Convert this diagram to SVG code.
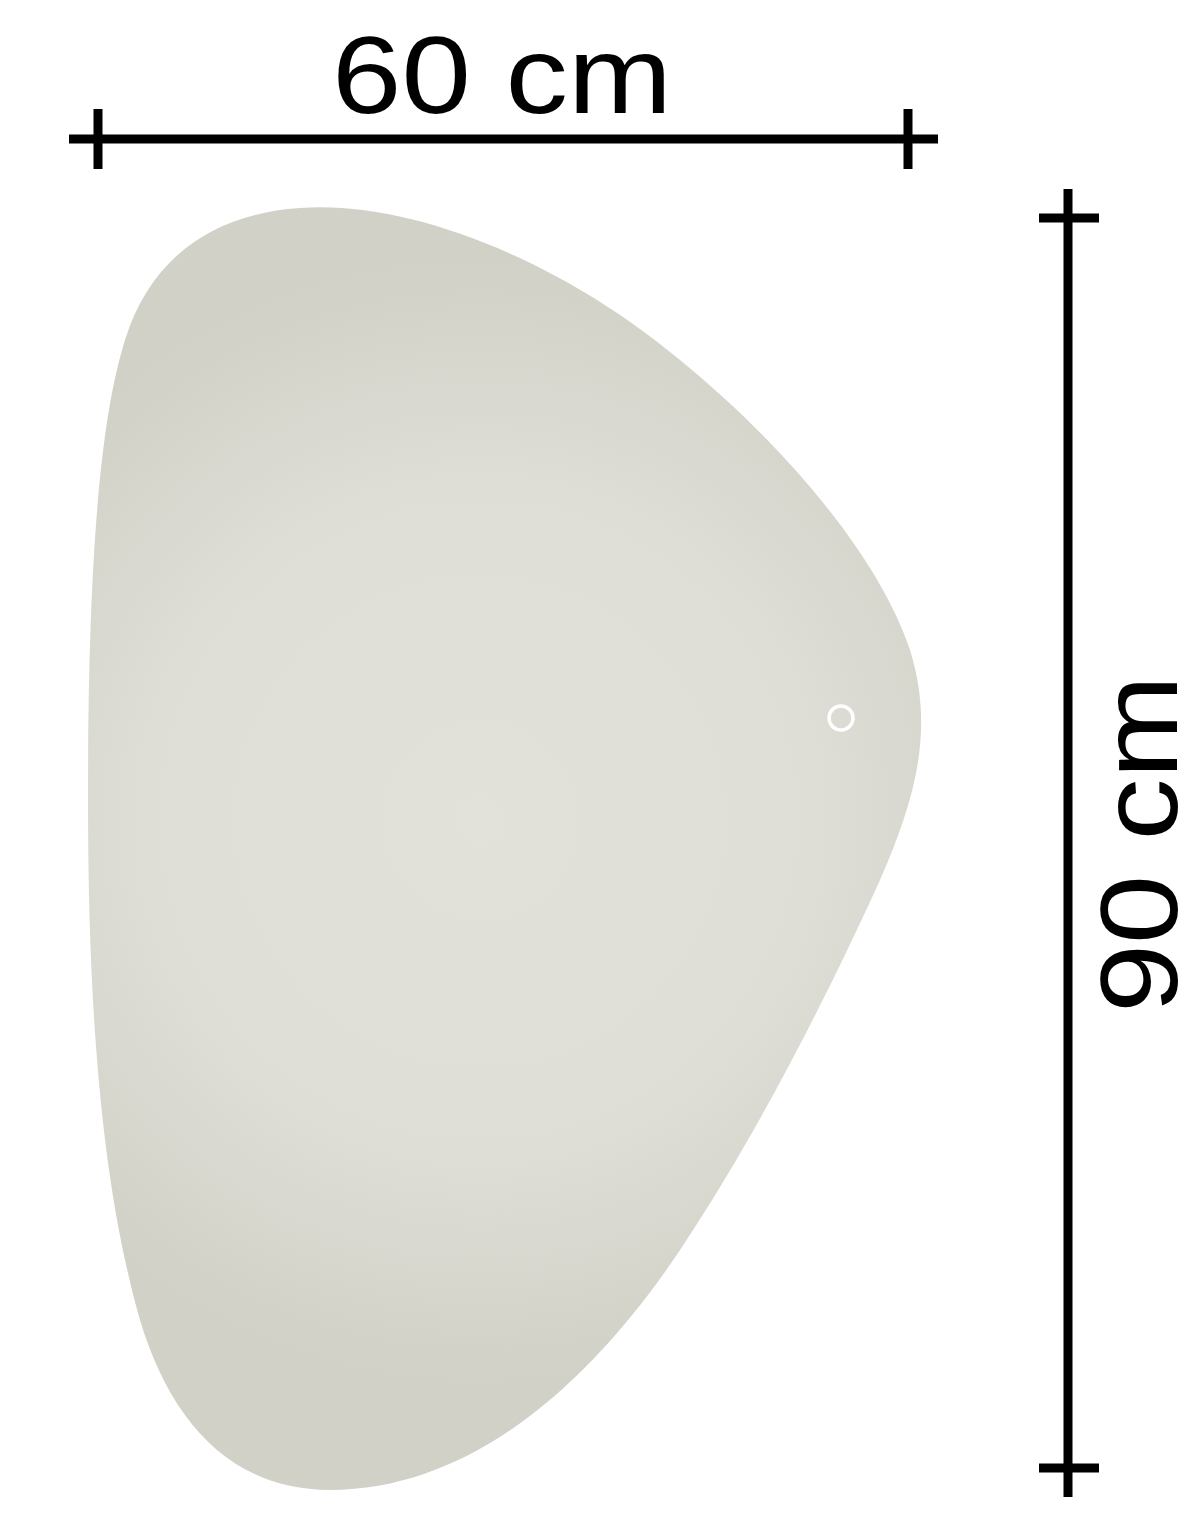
<svg xmlns="http://www.w3.org/2000/svg" width="1200" height="1539" viewBox="0 0 1200 1539">
<style>
.dim{stroke:#000;stroke-width:9;fill:none;stroke-linecap:butt}
.lbl{font-family:"Liberation Sans","Open Sans",sans-serif;font-size:110px;fill:#000}
</style>
<defs>
<radialGradient id="g" cx="480" cy="820" r="560" gradientUnits="userSpaceOnUse">
<stop offset="0" stop-color="#e2e2da"/>
<stop offset="0.6" stop-color="#deded6"/>
<stop offset="1" stop-color="#d1d1c8"/>
</radialGradient>
</defs>
<rect width="1200" height="1539" fill="#fff"/>
<g id="mirror">
<path d="M 300,208 C 410,200 560,260 680,360 C 790,450 880,560 910,650 C 935,730 915,800 880,880 C 830,990 760,1130 680,1250 C 600,1370 480,1490 330,1490 C 230,1490 170,1420 140,1320 C 100,1180 88,1000 88,800 C 88,560 100,420 125,340 C 150,260 210,214 300,208 Z" fill="url(#g)"/>
<circle cx="841" cy="718" r="12" fill="none" stroke="#fff" stroke-width="3.5"/>
</g>
<g id="width-dimension">
<line class="dim" x1="69" y1="139" x2="938" y2="139"/>
<line class="dim" x1="98" y1="109" x2="98" y2="169"/>
<line class="dim" x1="908" y1="109" x2="908" y2="169"/>
<text class="lbl" x="502" y="113" text-anchor="middle" textLength="340" lengthAdjust="spacingAndGlyphs">60 cm</text>
</g>
<g id="height-dimension">
<line class="dim" x1="1068" y1="189" x2="1068" y2="1497"/>
<line class="dim" x1="1039" y1="218" x2="1099" y2="218"/>
<line class="dim" x1="1039" y1="1468" x2="1099" y2="1468"/>
<text class="lbl" transform="translate(1177,844) rotate(-90)" x="0" y="0" text-anchor="middle" textLength="338" lengthAdjust="spacingAndGlyphs">90 cm</text>
</g>
</svg>
